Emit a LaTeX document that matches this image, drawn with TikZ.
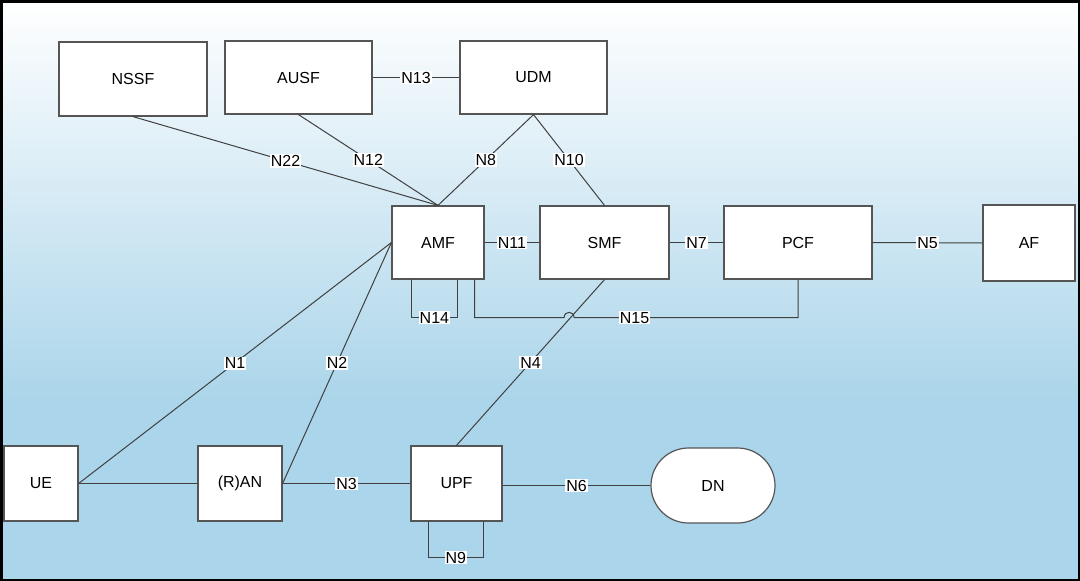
\documentclass[tikz,border=0pt]{standalone}
\usepackage{fontspec}
\setmainfont{Liberation Sans}
\usetikzlibrary{shapes.misc,calc}
\definecolor{bgbot}{RGB}{171,213,234}
\definecolor{linec}{RGB}{64,64,64}
\definecolor{boxc}{RGB}{85,85,85}
\begin{document}
\begin{tikzpicture}[x=1pt,y=-1pt,
  nf/.style={draw=boxc,line width=1.2pt,fill=white,rectangle,inner sep=0pt,font=\fontsize{16}{18}\selectfont},
  lbl/.style={fill=white,inner sep=1pt,font=\fontsize{16}{18}\selectfont,text=black},
  conn/.style={draw=linec,line width=1pt}]
\useasboundingbox (0,0) rectangle (1080,581);
\fill[bgbot] (0,395) rectangle (1080,581);
\shade[top color=white,bottom color=bgbot] (0,0) rectangle (1080,400);
\draw[black,line width=2.5pt] (1.25,1.25) rectangle (1078.75,579.75);
% nodes
\node[nf,minimum width=148,minimum height=74] (NSSF) at (133,79) {NSSF};
\node[nf,minimum width=147,minimum height=73] (AUSF) at (298.5,77.5) {AUSF};
\node[nf,minimum width=147,minimum height=73] (UDM) at (533.5,77.5) {UDM};
\node[nf,minimum width=92,minimum height=73] (AMF) at (438,242.5) {AMF};
\node[nf,minimum width=129,minimum height=73] (SMF) at (604.5,242.5) {SMF};
\node[nf,minimum width=148,minimum height=73] (PCF) at (798,242.5) {PCF};
\node[nf,minimum width=92,minimum height=76] (AF) at (1029,243) {AF};
\node[nf,minimum width=74,minimum height=75] (UE) at (41,483.5) {UE};
\node[nf,minimum width=84,minimum height=75] (RAN) at (240,483.5) {(R)AN};
\node[nf,minimum width=91,minimum height=75] (UPF) at (456.5,483.5) {UPF};
\node[nf,rounded rectangle,minimum width=124,minimum height=75] (DN) at (713,485.5) {DN};
% connectors
\path[conn] (AUSF) -- node[lbl]{N13} (UDM);
\path[conn] (NSSF.south) -- node[lbl]{N22} (AMF.north);
\path[conn] (AUSF.south) -- node[lbl]{N12} (AMF.north);
\path[conn] (UDM.south) -- node[lbl]{N8} (AMF.north);
\path[conn] (UDM.south) -- node[lbl]{N10} (SMF.north);
\path[conn] (AMF.east) -- node[lbl]{N11} (SMF.west);
\path[conn] (SMF.east) -- node[lbl]{N7} (PCF.west);
\path[conn] (PCF.east) -- node[lbl]{N5} (AF.west);
\path[conn] (UE.east) -- node[lbl]{N1} (AMF.west);
\path[conn] (RAN.east) -- node[lbl]{N2} (AMF.west);
\path[conn] (UE.east) -- (RAN.west);
\path[conn] (RAN.east) -- node[lbl]{N3} (UPF.west);
\path[conn] (UPF.east |- DN.west) -- node[lbl]{N6} (DN.west);
\path[conn] (SMF.south) -- node[lbl]{N4} (UPF.north);
% N14 loop
\path[conn] ([xshift=20]AMF.south west) -- ++(0,38) -| node[lbl,pos=0.25]{N14} ([xshift=66]AMF.south west);
% N15 with hop
\path[conn] ([xshift=-10]AMF.south east) -- ++(0,38) coordinate (h15)
  -- ($(h15)+(89.5,0)$) .. controls ($(h15)+(89.5,-7)$) and ($(h15)+(99.5,-7)$) .. ($(h15)+(99.5,0)$)
  -- node[lbl,pos=0.27]{N15} (PCF.south |- h15) -- (PCF.south);
% N9 loop
\path[conn] ([xshift=18]UPF.south west) -- ++(0,36) -| node[lbl,pos=0.25]{N9} ([xshift=73]UPF.south west);
\end{tikzpicture}
\end{document}
